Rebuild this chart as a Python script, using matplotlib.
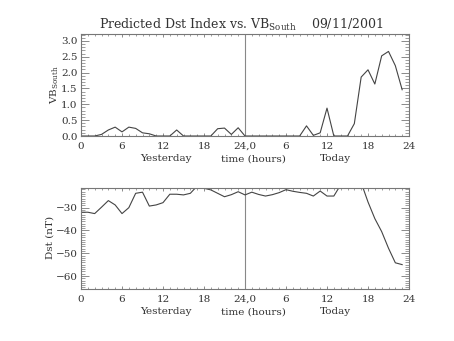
import matplotlib
matplotlib.use("Agg")
import matplotlib.pyplot as plt
from matplotlib.ticker import MultipleLocator
import numpy as np

# ---- data (hours since start of "Yesterday") ----
hours = list(range(48))
vb_south = [0.0, 0.0, 0.0, 0.05, 0.19, 0.28, 0.13, 0.28, 0.24, 0.10, 0.07, 0.0,
            0.0, 0.0, 0.19, 0.0, 0.0, 0.0, 0.0, 0.0, 0.23, 0.25, 0.05, 0.26,
            0.0, 0.0, 0.0, 0.0, 0.0, 0.0, 0.0, 0.0, 0.0, 0.32, 0.02, 0.10,
            0.88, 0.0, 0.0, 0.0, 0.39, 1.86, 2.09, 1.64, 2.53, 2.67, 2.22, 1.46]
dst = [-32.0, -32.0, -32.6, -29.8, -26.9, -28.8, -32.6, -30.0, -23.7, -23.2, -29.3, -28.8,
       -27.8, -24.1, -24.1, -24.4, -23.7, -20.5, -21.5, -22.2, -23.7, -25.2, -24.3, -23.0,
       -24.4, -23.2, -24.2, -24.9, -24.3, -23.4, -22.1, -22.8, -23.3, -23.7, -24.9, -22.7,
       -24.9, -24.9, -20.0, -19.0, -19.0, -19.0, -27.5, -34.8, -40.5, -47.8, -54.2, -55.0]
xtick_vals = [0, 6, 12, 18, 24, 30, 36, 42, 48]
xtick_labels = ["0", "6", "12", "18", "24,0", "6", "12", "18", "24"]
day_labels = ["Yesterday", "time (hours)", "Today"]
day_label_x = [12.4, 25.2, 37.2]
vb_ticks = [0.0, 0.5, 1.0, 1.5, 2.0, 2.5, 3.0]
dst_ticks = [-30, -40, -50, -60]

plt.rcParams['font.family'] = ['DejaVu Serif']
plt.rcParams['mathtext.fontset'] = 'dejavuserif'
TXT = '#333333'
LINE = '#444444'
AX = '#777777'

W, H = 454, 341
fig = plt.figure(figsize=(W / 100, H / 100), dpi=100)

def px_axes(left, top, right, bottom):
    return fig.add_axes([left / W, 1 - bottom / H, (right - left) / W, (bottom - top) / H])

ax1 = px_axes(81, 34, 409, 136)
ax2 = px_axes(81, 188.3, 409, 289)

def style(ax):
    ax.set_xlim(0, 48)
    ax.set_xticks(xtick_vals)
    ax.set_xticklabels(xtick_labels)
    ax.xaxis.set_minor_locator(MultipleLocator(1))
    for s in ax.spines.values():
        s.set_color(AX)
        s.set_linewidth(0.8)
    ax.tick_params(axis='both', which='both', direction='in', top=True, right=True,
                   colors=AX, labelcolor=TXT, labelsize=7.5)
    ax.tick_params(axis='x', which='major', length=2.5, width=0.6, pad=4)
    ax.tick_params(axis='x', which='minor', length=1.2, width=0.5)
    ax.tick_params(axis='y', which='major', length=5.5, width=0.6, pad=2.5)
    ax.tick_params(axis='y', which='minor', length=2.8, width=0.5)
    ax.axvline(24, color='#888888', lw=0.8)
    for lab, xv in zip(day_labels, day_label_x):
        ax.text(xv, -0.225, lab, transform=ax.get_xaxis_transform(), ha='center',
                va='center', fontsize=7.5, color=TXT)

style(ax1)
ax1.plot(hours, vb_south, color=LINE, lw=0.8)
ax1.set_ylim(0, 3.22)
ax1.set_yticks(vb_ticks)
ax1.set_yticklabels([f"{v:.1f}" for v in vb_ticks])
ax1.yaxis.set_minor_locator(MultipleLocator(0.1))

style(ax2)
ax2.plot(hours, dst, color=LINE, lw=0.8, clip_on=True)
ax2.set_ylim(-65.7, -21.5)
ax2.set_yticks(dst_ticks)
ax2.yaxis.set_minor_locator(MultipleLocator(1))

fig.text(241 / W, 1 - 25 / H, r"Predicted Dst Index vs. VB$_{\mathrm{South}}$    09/11/2001",
         ha='center', va='center', fontsize=9, color=TXT)
fig.text(55 / W, 1 - 85 / H, r"VB$_{\mathrm{South}}$", rotation=90, ha='center', va='center',
         fontsize=7.5, color=TXT)
fig.text(50 / W, 1 - 237 / H, "Dst (nT)", rotation=90, ha='center', va='center',
         fontsize=7.5, color=TXT)

fig.savefig("out.png", dpi=100)
